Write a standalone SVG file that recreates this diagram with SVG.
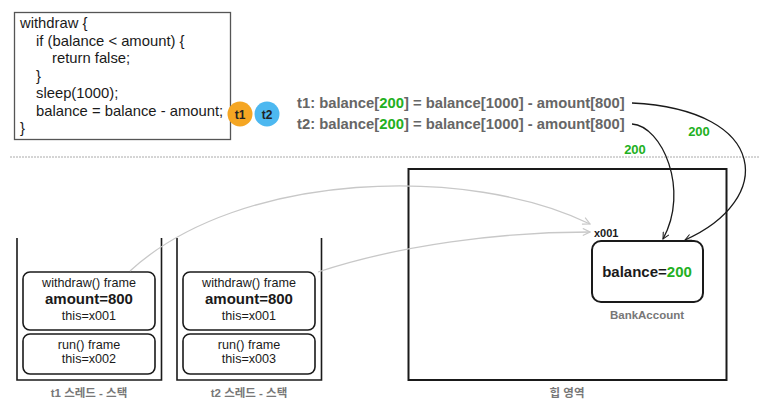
<svg xmlns="http://www.w3.org/2000/svg" width="769" height="408" viewBox="0 0 769 408">
<defs>
<style>
text{font-family:"Liberation Sans",Arial,"Noto Sans CJK KR",sans-serif;}
.code{font-size:14.8px;fill:#1a1a1a;}
.eq{font-size:14.8px;font-weight:bold;fill:#666;}
.g{fill:#22b022;}
.frame{fill:#fff;stroke:#1a1a1a;stroke-width:1.6;}
.wall{fill:none;stroke:#1a1a1a;stroke-width:1.6;}
.sm{font-size:12.6px;fill:#1a1a1a;text-anchor:middle;}
.big{font-size:15px;font-weight:bold;fill:#1a1a1a;text-anchor:middle;}
.lbl{font-size:11.5px;font-weight:bold;fill:#777;text-anchor:middle;}
.dark{fill:none;stroke:#1a1a1a;stroke-width:1.3;}
.light{fill:none;stroke:#c8c8c8;stroke-width:1.3;}
</style>
<marker id="ad" viewBox="0 0 10 10" refX="9" refY="5" markerWidth="8" markerHeight="8" orient="auto" markerUnits="userSpaceOnUse"><path d="M1,1 L9,5 L1,9" fill="none" stroke="#1a1a1a" stroke-width="1.3"/></marker>
<marker id="al" viewBox="0 0 10 10" refX="9" refY="5" markerWidth="9" markerHeight="9" orient="auto" markerUnits="userSpaceOnUse"><path d="M1,1 L9,5 L1,9" fill="none" stroke="#c8c8c8" stroke-width="1.3"/></marker>
</defs>
<g id="code">
<rect x="14.5" y="12.5" width="216" height="127" fill="#fff" stroke="#555" stroke-width="1.3"/>
<text class="code" x="20" y="28">withdraw {</text>
<text class="code" x="36" y="45.5">if (balance &lt; amount) {</text>
<text class="code" x="52" y="63">return false;</text>
<text class="code" x="36" y="80.5">}</text>
<text class="code" x="36" y="98">sleep(1000);</text>
<text class="code" x="36" y="115.5">balance = balance - amount;</text>
<text class="code" x="20" y="133">}</text>
</g>
<g id="t1badge"><circle cx="240" cy="114" r="12.5" fill="#f5a623"/><text x="240" y="118.5" font-size="12" font-weight="bold" fill="#222" text-anchor="middle">t1</text></g>
<g id="t2badge"><circle cx="267" cy="114" r="12.5" fill="#4db8f0"/><text x="267" y="118.5" font-size="12" font-weight="bold" fill="#222" text-anchor="middle">t2</text></g>
<g id="eqs">
<text class="eq" x="297" y="108">t1: balance[<tspan class="g">200</tspan>] = balance[1000] - amount[800]</text>
<text class="eq" x="297" y="129">t2: balance[<tspan class="g">200</tspan>] = balance[1000] - amount[800]</text>
</g>
<line x1="10" y1="157" x2="759" y2="157" stroke="#aaa" stroke-width="1" stroke-dasharray="2,1"/>
<g id="heap">
<rect x="408.5" y="169" width="318" height="211" fill="none" stroke="#1a1a1a" stroke-width="2"/>
<text class="lbl" x="567" y="397">힙 영역</text>
</g>
<g id="bankaccount">
<rect x="592" y="241" width="111" height="61" rx="9" fill="#fff" stroke="#1a1a1a" stroke-width="2"/>
<text class="big" x="647" y="277">balance=<tspan class="g">200</tspan></text>
<text class="lbl" x="647" y="319">BankAccount</text>
<text x="594" y="237" font-size="11" font-weight="bold" fill="#1a1a1a">x001</text>
</g>
<g id="stack1">
<path class="wall" d="M17,238 V380 H161.5 V238"/>
<rect class="frame" x="23" y="272" width="132" height="58" rx="7"/>
<text class="sm" x="89" y="287">withdraw() frame</text>
<text class="big" x="89" y="304">amount=800</text>
<text class="sm" x="89" y="320">this=x001</text>
<rect class="frame" x="23" y="334" width="132" height="40" rx="7"/>
<text class="sm" x="89" y="349">run() frame</text>
<text class="sm" x="89" y="363">this=x002</text>
<text class="lbl" x="89" y="397">t1 스레드 - 스택</text>
</g>
<g id="stack2">
<path class="wall" d="M177,238 V380 H321.5 V238"/>
<rect class="frame" x="183" y="272" width="132" height="58" rx="7"/>
<text class="sm" x="249" y="287">withdraw() frame</text>
<text class="big" x="249" y="304">amount=800</text>
<text class="sm" x="249" y="320">this=x001</text>
<rect class="frame" x="183" y="334" width="132" height="40" rx="7"/>
<text class="sm" x="249" y="349">run() frame</text>
<text class="sm" x="249" y="363">this=x003</text>
<text class="lbl" x="249" y="397">t2 스레드 - 스택</text>
</g>
<g id="connectors">
<path class="light" d="M130,271 C240,170 470,165 590,224" marker-end="url(#al)"/>
<path class="light" d="M318,272 C400,245 500,232 590,232" marker-end="url(#al)"/>
<path class="dark" d="M632,103 C770,110 775,200 685,240" marker-end="url(#ad)"/>
<path class="dark" d="M632,124 C662,126 690,190 663,239" marker-end="url(#ad)"/>
<text x="699" y="136" font-size="13" font-weight="bold" class="g" text-anchor="middle">200</text>
<text x="635" y="154" font-size="13" font-weight="bold" class="g" text-anchor="middle">200</text>
</g>
</svg>
